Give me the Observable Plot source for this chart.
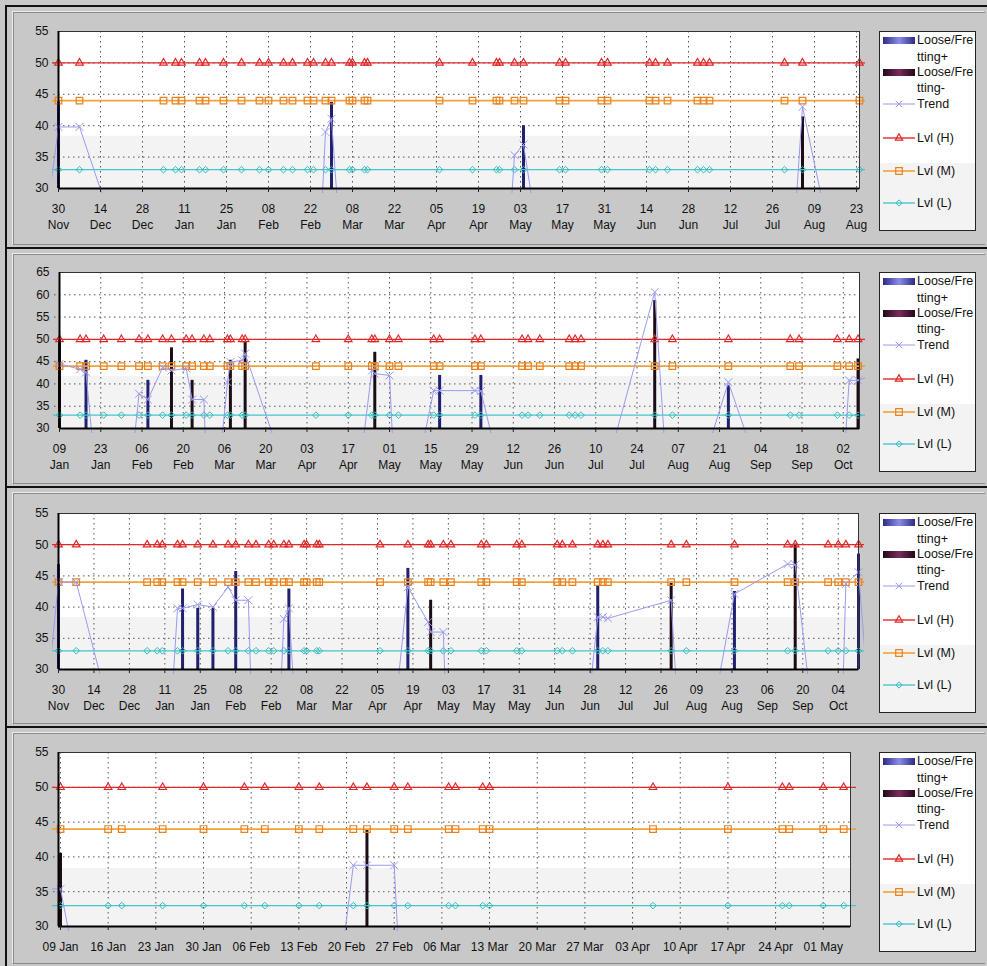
<!DOCTYPE html>
<html><head><meta charset="utf-8">
<script src="https://cdn.jsdelivr.net/npm/d3@7"></script>
<script src="https://cdn.jsdelivr.net/npm/@observablehq/plot@0.6"></script>
<style>
html,body{margin:0;padding:0;background:#c8c8c8;}
#root{position:relative;width:987px;height:966px;overflow:hidden;font-family:"Liberation Sans",Arial,sans-serif;background:#c8c8c8;}
.panel{position:absolute;left:5px;width:982px;border-top:2px solid #111;border-left:2px solid #111;box-sizing:border-box;}
.inner{position:absolute;left:6px;top:5px;right:2px;bottom:2px;border-top:1px solid #8a8a8a;border-left:1px solid #8a8a8a;border-bottom:1px solid #8a8a8a;box-shadow:-1px -1px 0 #ededed;}
.chart{position:absolute;left:0;}
.legend{position:absolute;left:879px;width:97px;height:200px;box-sizing:border-box;border:1px solid #222;background:linear-gradient(#fff 0,#fff 66%,#f3f3f3 66%,#f3f3f3 100%);}
.legend text{font-family:"Liberation Sans",Arial,sans-serif;font-size:12.5px;}
</style></head>
<body><div id="root"></div>
<script>
// ---------------- data ----------------
const levelH = 50, levelM = 44, levelL = 33;
const legendLabels = ["Loose/Fre","tting+","Loose/Fre","tting-","Trend","Lvl (H)","Lvl (M)","Lvl (L)"];

const p1Dates = ["2008-11-30","2008-12-07","2009-01-04","2009-01-08","2009-01-10","2009-01-16","2009-01-18","2009-01-24","2009-01-30","2009-02-05","2009-02-08","2009-02-13","2009-02-16","2009-02-21","2009-02-23","2009-02-27","2009-03-01","2009-03-07","2009-03-08","2009-03-12","2009-03-13","2009-04-06","2009-04-17","2009-04-25","2009-04-26","2009-05-01","2009-05-04","2009-05-16","2009-05-18","2009-05-30","2009-06-01","2009-06-15","2009-06-17","2009-06-21","2009-07-01","2009-07-03","2009-07-05","2009-07-30","2009-08-05","2009-08-24"];
const p1Domain = ["2008-11-30","2009-08-24"];
const p1Ticks = ["2008-11-30","2008-12-14","2008-12-28","2009-01-11","2009-01-25","2009-02-08","2009-02-22","2009-03-08","2009-03-22","2009-04-05","2009-04-19","2009-05-03","2009-05-17","2009-05-31","2009-06-14","2009-06-28","2009-07-12","2009-07-26","2009-08-09","2009-08-23"];
const p1PlusDates = ["2008-11-30","2009-03-01","2009-05-04"];
const p1PlusValues = [44, 43.7, 40];
const p1MinusDates = ["2009-08-05"];
const p1MinusValues = [41.4];
const p1TrendDates = ["2008-11-19","2008-11-30","2008-12-07","2009-01-04","2009-02-23","2009-02-27","2009-03-01","2009-03-07","2009-04-26","2009-05-01","2009-05-04","2009-05-16","2009-07-30","2009-08-05","2009-08-24"];
const p1TrendValues = [0, 39.8, 39.8, 0, 0, 39, 41.1, 0, 0, 35.3, 37, 0, 0, 43, 0];

const p2Dates = ["2009-01-09","2009-01-16","2009-01-18","2009-01-24","2009-01-30","2009-02-05","2009-02-08","2009-02-13","2009-02-16","2009-02-21","2009-02-23","2009-02-27","2009-03-01","2009-03-07","2009-03-08","2009-03-12","2009-03-13","2009-04-06","2009-04-17","2009-04-25","2009-04-26","2009-05-01","2009-05-04","2009-05-16","2009-05-18","2009-05-30","2009-06-01","2009-06-15","2009-06-17","2009-06-21","2009-07-01","2009-07-03","2009-07-05","2009-07-30","2009-08-05","2009-08-24","2009-09-14","2009-09-17","2009-09-30","2009-10-04","2009-10-07"];
const p2Domain = ["2009-01-09","2009-10-07T12:00:00Z"];
const p2Ticks = ["2009-01-09","2009-01-23","2009-02-06","2009-02-20","2009-03-06","2009-03-20","2009-04-03","2009-04-17","2009-05-01","2009-05-15","2009-05-29","2009-06-12","2009-06-26","2009-07-10","2009-07-24","2009-08-07","2009-08-21","2009-09-04","2009-09-18","2009-10-02"];
const p2PlusDates = ["2009-01-18","2009-02-08","2009-05-18","2009-06-01","2009-08-24"];
const p2PlusValues = [45.3, 40.8, 41.9, 41.9, 39.6];
const p2MinusDates = ["2009-01-09","2009-02-16","2009-02-23","2009-03-08","2009-03-13","2009-04-26","2009-07-30","2009-10-07"];
const p2MinusValues = [50, 48.1, 40.8, 45.3, 49.4, 47.1, 58.7, 45.6];
const p2TrendDates = ["2009-01-09","2009-01-16","2009-01-18","2009-01-24","2009-01-30","2009-02-05","2009-02-08","2009-02-13","2009-02-16","2009-02-21","2009-02-23","2009-02-27","2009-03-01","2009-03-07","2009-03-08","2009-03-12","2009-03-13","2009-04-06","2009-04-17","2009-04-25","2009-04-26","2009-05-01","2009-05-04","2009-05-16","2009-05-18","2009-05-30","2009-06-01","2009-06-15","2009-07-05","2009-07-30","2009-08-05","2009-08-24","2009-09-14","2009-09-30","2009-10-04","2009-10-07","2009-10-12"];
const p2TrendValues = [44.5, 43.3, 42.6, 0, 0, 37.8, 36.5, 43.7, 43, 43.5, 36.5, 36.5, 0, 40.4, 44.9, 45.3, 46.8, 0, 0, 43, 42.3, 41.9, 0, 38.5, 38.5, 38.5, 38.4, 0, 0, 60.6, 0, 40.4, 0, 0, 40.8, 40.8, 42];

const p3Dates = ["2008-11-30","2008-12-07","2009-01-04","2009-01-08","2009-01-10","2009-01-16","2009-01-18","2009-01-24","2009-01-30","2009-02-05","2009-02-08","2009-02-13","2009-02-16","2009-02-21","2009-02-23","2009-02-27","2009-03-01","2009-03-07","2009-03-08","2009-03-12","2009-03-13","2009-04-06","2009-04-17","2009-04-25","2009-04-26","2009-05-01","2009-05-04","2009-05-16","2009-05-18","2009-05-30","2009-06-01","2009-06-15","2009-06-17","2009-06-21","2009-07-01","2009-07-03","2009-07-05","2009-07-30","2009-08-05","2009-08-24","2009-09-14","2009-09-17","2009-09-30","2009-10-04","2009-10-07","2009-10-12"];
const p3Domain = ["2008-11-30","2009-10-12"];
const p3Ticks = ["2008-11-30","2008-12-14","2008-12-28","2009-01-11","2009-01-25","2009-02-08","2009-02-22","2009-03-08","2009-03-22","2009-04-05","2009-04-19","2009-05-03","2009-05-17","2009-05-31","2009-06-14","2009-06-28","2009-07-12","2009-07-26","2009-08-09","2009-08-23","2009-09-06","2009-09-20","2009-10-04"];
const p3PlusDates = ["2008-11-30","2009-01-18","2009-01-24","2009-01-30","2009-02-08","2009-03-01","2009-04-17","2009-07-01","2009-08-24","2009-10-12"];
const p3PlusValues = [46.8, 42.9, 39.8, 39.8, 45.7, 42.9, 46.2, 43.3, 42.5, 48.5];
const p3MinusDates = ["2009-04-26","2009-07-30","2009-09-17"];
const p3MinusValues = [41.1, 44, 50.1];
const p3TrendDates = ["2008-11-19","2008-11-30","2008-12-07","2009-01-04","2009-01-10","2009-01-16","2009-01-18","2009-01-24","2009-01-30","2009-02-05","2009-02-08","2009-02-13","2009-02-16","2009-02-23","2009-02-27","2009-03-01","2009-03-07","2009-04-06","2009-04-17","2009-04-25","2009-04-26","2009-05-01","2009-05-04","2009-06-21","2009-07-01","2009-07-03","2009-07-05","2009-07-30","2009-08-05","2009-08-24","2009-09-14","2009-09-17","2009-09-30","2009-10-04","2009-10-07","2009-10-12","2009-10-21"];
const p3TrendValues = [0, 44, 44, 0, 0, 39.8, 39.8, 40.4, 40, 43.2, 41.1, 41.1, 0, 0, 38.1, 39.8, 0, 0, 43.2, 37.6, 36, 36, 0, 0, 38.4, 38.4, 38.2, 41.1, 0, 42.1, 46.9, 46.8, 0, 0, 43.7, 45.6, 0];

const p4Dates = ["2009-01-09","2009-01-16","2009-01-18","2009-01-24","2009-01-30","2009-02-05","2009-02-08","2009-02-13","2009-02-16","2009-02-21","2009-02-23","2009-02-27","2009-03-01","2009-03-07","2009-03-08","2009-03-12","2009-03-13","2009-04-06","2009-04-17","2009-04-25","2009-04-26","2009-05-01","2009-05-04"];
const p4Domain = ["2009-01-08T17:00:00Z","2009-05-05T00:00:00Z"];
const p4Ticks = ["2009-01-09","2009-01-16","2009-01-23","2009-01-30","2009-02-06","2009-02-13","2009-02-20","2009-02-27","2009-03-06","2009-03-13","2009-03-20","2009-03-27","2009-04-03","2009-04-10","2009-04-17","2009-04-24","2009-05-01"];
const p4PlusDates = [];
const p4PlusValues = [];
const p4MinusDates = ["2009-01-09","2009-02-23"];
const p4MinusValues = [40.5, 43.8];
const p4TrendDates = ["2009-01-04","2009-01-09","2009-01-16","2009-02-16","2009-02-21","2009-02-23","2009-02-27","2009-03-01"];
const p4TrendValues = [35.4, 35.4, 0, 0, 38.8, 38.8, 38.8, 0];

const yTicks55 = [30, 35, 40, 45, 50, 55];
const yTicks65 = [30, 35, 40, 45, 50, 55, 60, 65];

// ---------------- styling ----------------
const FONT = "Liberation Sans, Arial, sans-serif";
const COL = {plus: "#20206f", minus: "#1c0c15", trend: "#9a9aee", H: "#e02a2a", M: "#f2a23a", Mmark: "#e8801e", L: "#45c6cc", Lmark: "#34bcbc", grid: "#555"};

const toD = s => new Date(s);
const pairs = (ds, vs) => ds.map((d, i) => ({date: toD(d), value: vs[i]}));

const panels = [
  {T: 5, H: 242, svgTop: 14, mt: 17, ph: 157, mb: 45, ml: 58, right: 859, dates: p1Dates, domain: p1Domain, ticks: p1Ticks, yTicks: yTicks55,
   plus: pairs(p1PlusDates, p1PlusValues), minus: pairs(p1MinusDates, p1MinusValues), trend: pairs(p1TrendDates, p1TrendValues), fmt: d3.utcFormat("%d\n%b")},
  {T: 247, H: 239, svgTop: 255, mt: 17, ph: 156, mb: 45, ml: 59, right: 859, dates: p2Dates, domain: p2Domain, ticks: p2Ticks, yTicks: yTicks65,
   plus: pairs(p2PlusDates, p2PlusValues), minus: pairs(p2MinusDates, p2MinusValues), trend: pairs(p2TrendDates, p2TrendValues), fmt: d3.utcFormat("%d\n%b")},
  {T: 486, H: 240, svgTop: 495, mt: 18, ph: 156, mb: 45, ml: 58, right: 858, dates: p3Dates, domain: p3Domain, ticks: p3Ticks, yTicks: yTicks55,
   plus: pairs(p3PlusDates, p3PlusValues), minus: pairs(p3MinusDates, p3MinusValues), trend: pairs(p3TrendDates, p3TrendValues), fmt: d3.utcFormat("%d\n%b")},
  {T: 726, H: 240, svgTop: 735, mt: 17, ph: 174, mb: 30, ml: 58, right: 850, dates: p4Dates, domain: p4Domain, ticks: p4Ticks, yTicks: yTicks55,
   plus: pairs(p4PlusDates, p4PlusValues), minus: pairs(p4MinusDates, p4MinusValues), trend: pairs(p4TrendDates, p4TrendValues), fmt: d3.utcFormat("%d %b")}
];

const root = document.getElementById("root");
const W = 880;

function legendSVG(k) {
  const tri = d3.symbol(d3.symbolTriangle2, 38.5)();
  const sq = d3.symbol(d3.symbolSquare2, 55)();
  const di = d3.symbol(d3.symbolDiamond2, 25)();
  const tm = d3.symbol(d3.symbolTimes, 30)();
  const t = (x, y, s) => `<text x="${x}" y="${y}" dominant-baseline="central" fill="#111">${s}</text>`;
  return `<svg width="95" height="198" style="position:absolute;left:0;top:0;overflow:visible">
  <defs>
   <linearGradient id="gP${k}" x1="0" x2="1" y1="0" y2="0"><stop offset="0" stop-color="#2c2c86"/><stop offset="0.5" stop-color="#8c8cea"/><stop offset="1" stop-color="#2c2c86"/></linearGradient>
   <linearGradient id="gM${k}" x1="0" x2="1" y1="0" y2="0"><stop offset="0" stop-color="#22081a"/><stop offset="0.5" stop-color="#7a2c5c"/><stop offset="1" stop-color="#22081a"/></linearGradient>
  </defs>
  <rect x="3" y="5" width="32" height="7" fill="url(#gP${k})"/>
  ${t(37, 8, legendLabels[0])}${t(37, 25, legendLabels[1])}
  <rect x="3" y="37" width="32" height="7" fill="url(#gM${k})"/>
  ${t(37, 40, legendLabels[2])}${t(37, 56, legendLabels[3])}
  <line x1="3" x2="35" y1="72" y2="72" stroke="${COL.trend}" stroke-width="1"/>
  <path d="${tm}" transform="translate(19,72)" stroke="${COL.trend}" fill="none"/>
  ${t(37, 72, legendLabels[4])}
  <line x1="3" x2="35" y1="106" y2="106" stroke="${COL.H}" stroke-width="1.4"/>
  <path d="${tri}" transform="translate(19,106)" stroke="${COL.H}" fill="none" stroke-width="1.2"/>
  ${t(37, 106, legendLabels[5])}
  <line x1="3" x2="35" y1="139" y2="139" stroke="${COL.M}" stroke-width="1.6"/>
  <path d="${sq}" transform="translate(19,139)" stroke="${COL.Mmark}" fill="none" stroke-width="1.2"/>
  ${t(37, 139, legendLabels[6])}
  <line x1="3" x2="35" y1="171" y2="171" stroke="${COL.L}" stroke-width="1.4"/>
  <path d="${di}" transform="translate(19,171)" stroke="${COL.Lmark}" fill="none" stroke-width="1"/>
  ${t(37, 171, legendLabels[7])}
  </svg>`;
}

panels.forEach((p, k) => {
  const frame = document.createElement("div");
  frame.className = "panel";
  frame.style.top = p.T + "px";
  frame.style.height = p.H + "px";
  frame.innerHTML = '<div class="inner"></div>';
  root.appendChild(frame);

  const [y0, y1] = [p.yTicks[0], p.yTicks[p.yTicks.length - 1]];
  const meas = p.dates.map(toD);
  const ticks = p.ticks.map(toD);
  const dom = p.domain.map(toD);
  const height = p.mt + p.ph + p.mb;

  const svg = Plot.plot({
    width: W, height,
    marginLeft: p.ml, marginRight: W - p.right, marginTop: p.mt, marginBottom: p.mb,
    x: {type: "utc", domain: dom, axis: null},
    y: {domain: [y0, y1], axis: null},
    style: {fontFamily: FONT, fontSize: "12px", background: "transparent", overflow: "visible", color: "#111"},
    marks: [
      Plot.frame({fill: "#fff", stroke: "none"}),
      Plot.rect([0], {y1: () => y0, y2: () => y0 + (y1 - y0) / 3, fill: "#f3f3f3"}),
      Plot.ruleX(ticks, {stroke: COL.grid, strokeDasharray: "1.5,3.5", strokeWidth: 1}),
      Plot.ruleY(p.yTicks.filter(v => v > y0 && v < y1), {stroke: COL.grid, strokeDasharray: "1.5,3.5", strokeWidth: 1, insetLeft: -5}),
      Plot.ruleX(p.plus, {x: "date", y1: () => y0, y2: "value", stroke: COL.plus, strokeWidth: 3}),
      Plot.ruleX(p.minus, {x: "date", y1: () => y0, y2: "value", stroke: COL.minus, strokeWidth: 3}),
      Plot.ruleY([levelH], {stroke: COL.H, strokeWidth: 1.3, insetLeft: -6, insetRight: -6}),
      Plot.ruleY([levelM], {stroke: COL.M, strokeWidth: 1.7, insetLeft: -6, insetRight: -6}),
      Plot.ruleY([levelL], {stroke: COL.L, strokeWidth: 1.3, insetLeft: -6, insetRight: -6}),
      Plot.dot(meas, {x: d => d, y: () => levelH, symbol: "triangle2", r: 3.6, stroke: COL.H, strokeWidth: 1.2, fill: "none"}),
      Plot.dot(meas, {x: d => d, y: () => levelM, symbol: "square2", r: 4.2, stroke: COL.Mmark, strokeWidth: 1.2, fill: "none"}),
      Plot.dot(meas, {x: d => d, y: () => levelL, symbol: "diamond2", r: 3, stroke: COL.Lmark, strokeWidth: 1, fill: "none"}),
      Plot.line(p.trend, {x: "date", y: "value", stroke: COL.trend, strokeWidth: 1, clip: true}),
      Plot.dot(p.trend.filter(d => d.value > 0), {x: "date", y: "value", symbol: "times", r: 3.7, stroke: COL.trend, strokeWidth: 1, clip: true}),
      Plot.frame({stroke: "#333", strokeWidth: 1}),
      Plot.ruleY([y0], {stroke: "#000", strokeWidth: 2}),
      Plot.ruleX([dom[0]], {stroke: "#000", strokeWidth: 2}),
      Plot.ruleX(ticks, {y1: () => y0, y2: () => y0, insetBottom: -4, stroke: "#222"}),
      Plot.text(ticks, {x: d => d, text: d => p.fmt(d), frameAnchor: "bottom", lineAnchor: "top", dy: 13, lineHeight: 1.35, fill: "#111", fontSize: 12}),
      Plot.text(p.yTicks, {y: d => d, text: d => String(d), frameAnchor: "left", textAnchor: "end", dx: -10, fill: "#111", fontSize: 12})
    ]
  });
  svg.querySelectorAll("clipPath rect").forEach(r => {
    r.setAttribute("x", +r.getAttribute("x") - 6);
    r.setAttribute("width", +r.getAttribute("width") + 12);
    r.setAttribute("height", +r.getAttribute("height") + 5);
  });
  const holder = document.createElement("div");
  holder.className = "chart";
  holder.style.top = p.svgTop + "px";
  holder.appendChild(svg);
  root.appendChild(holder);

  const lg = document.createElement("div");
  lg.className = "legend";
  lg.style.top = (p.svgTop + p.mt) + "px";
  lg.innerHTML = legendSVG(k);
  root.appendChild(lg);
});
</script>
</body></html>
